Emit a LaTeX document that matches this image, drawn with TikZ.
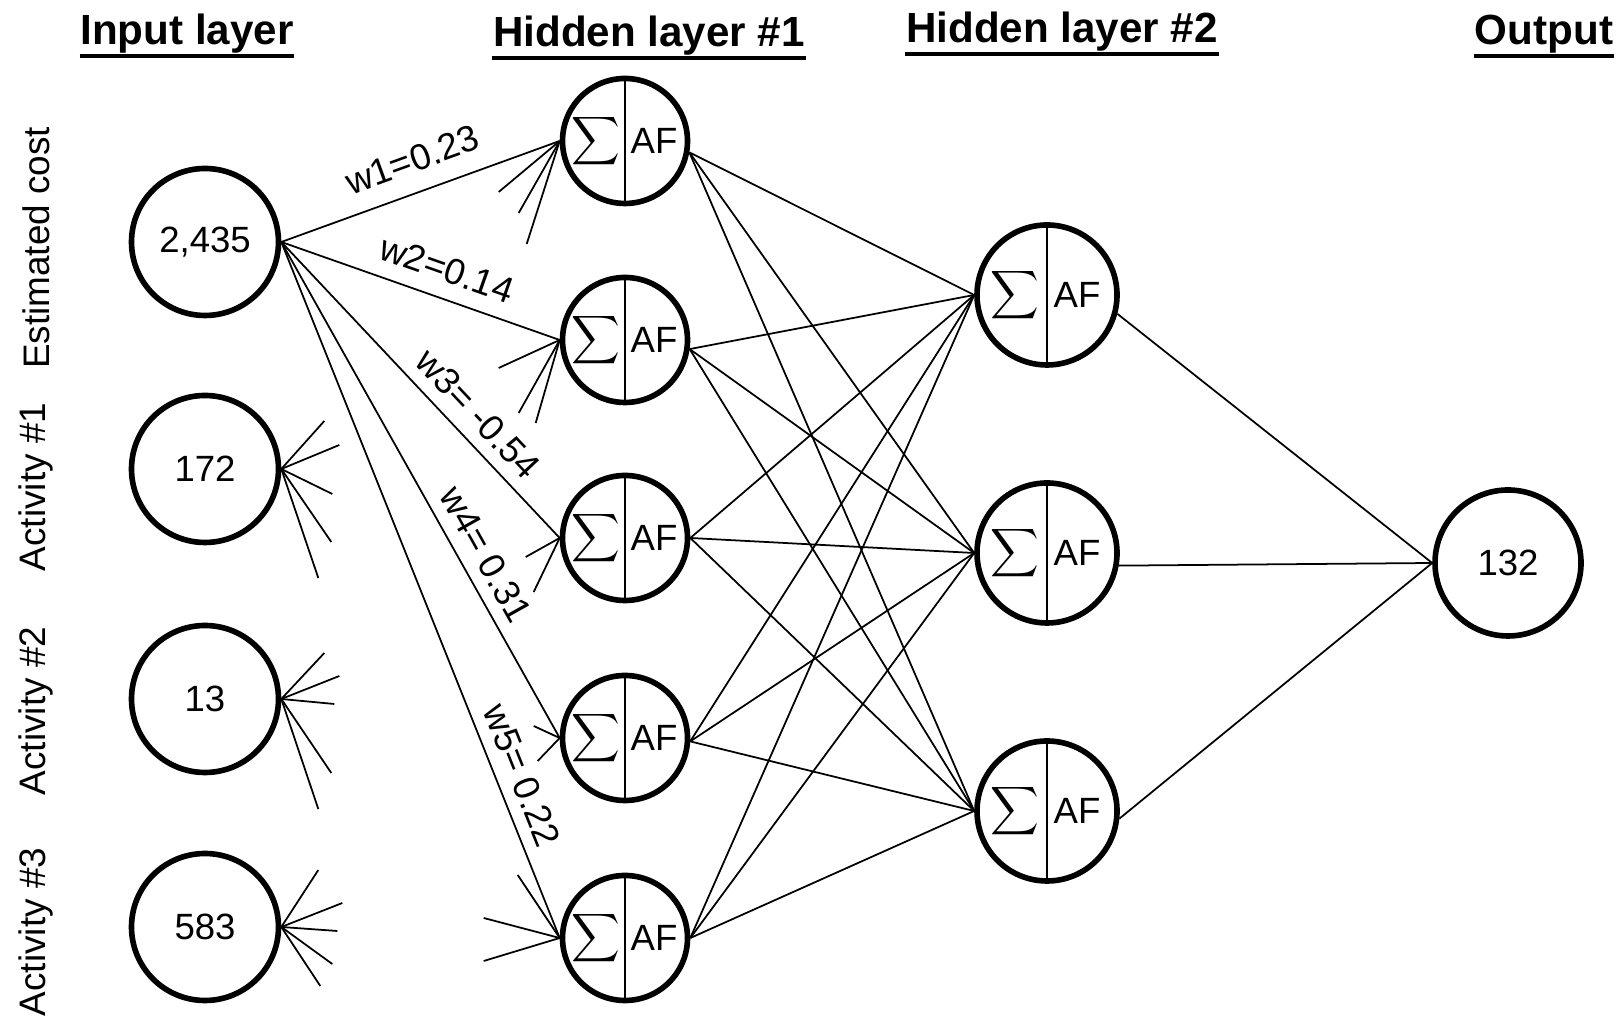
\documentclass[tikz,border=0pt]{standalone}
\usepackage{fontspec}
\setmainfont{Liberation Sans}
\usepackage{graphicx}
\usetikzlibrary{calc}
\newcommand{\sumsign}{\scalebox{0.96}{$\displaystyle\sum$}}

\begin{document}
\begin{tikzpicture}[
    every node/.style = {font=\fontsize{10.4}{12}\selectfont},
    neuron/.style = {circle, draw, line width=1.6pt, inner sep=0pt},
    conn/.style = {line width=0.5pt},
    wlabel/.style = {sloped, above},
    title/.style = {anchor=base, inner sep=0pt, font=\fontsize{12}{14}\selectfont\bfseries},
    side/.style = {rotate=90, font=\fontsize{10.5}{12}\selectfont}
]
    \useasboundingbox (0,0) rectangle (16.2,10.17);
    % Titoli
    \node[title] (tin) at (1.87,9.72) {Input layer};
    \node[title] (tha) at (6.49,9.70) {Hidden layer \#1};
    \node[title] (thb) at (10.62,9.74) {Hidden layer \#2};
    \node[title] (tout) at (15.44,9.72) {Output};
    \foreach \t in {tin,tha,thb,tout}
        \draw[line width=0.9pt] ([yshift=-0.11cm]\t.base west) -- ([yshift=-0.11cm]\t.base east);
    % Etichette laterali
    \node[side] (lcost) at (0.36,7.69) {Estimated cost};
    \node[side] (lact1) at (0.36,5.30) {Activity \#1};
    \node[side] (lact2) at (0.36,3.06) {Activity \#2};
    \node[side] (lact3) at (0.36,0.85) {Activity \#3};
    % Input layer
    \node[neuron, minimum size=1.47cm] (x1) at (2.05,7.75) {2,435};
    \node[neuron, minimum size=1.47cm] (x2) at (2.05,5.48) {172};
    \node[neuron, minimum size=1.47cm] (x3) at (2.05,3.18) {13};
    \node[neuron, minimum size=1.47cm] (x4) at (2.05,0.90) {583};
    % Hidden layer #1
    \foreach \i/\y in {1/8.76, 2/6.77, 3/4.79, 4/2.79, 5/0.79} {
        \node[neuron, minimum size=1.25cm] (ha\i) at (6.25,\y) {};
        \draw[conn] (ha\i.north) -- (ha\i.south);
        \node[font=\normalsize] at ([xshift=-0.29cm]ha\i.center) {\sumsign};
        \node at ([xshift=0.29cm]ha\i.center) {AF};
    }
    % Hidden layer #2
    \foreach \j/\y in {1/7.22, 2/4.64, 3/2.06} {
        \node[neuron, minimum size=1.40cm] (hb\j) at (10.47,\y) {};
        \draw[conn] (hb\j.north) -- (hb\j.south);
        \node[font=\normalsize] at ([xshift=-0.32cm]hb\j.center) {\sumsign};
        \node at ([xshift=0.30cm]hb\j.center) {AF};
    }
    % Output
    \node[neuron, minimum size=1.46cm] (out) at (15.08,4.54) {132};
    % pesi dal primo input
    \draw[conn] (x1.east) -- (ha1.west) node[wlabel, above=2pt, pos=0.51] {w1=0.23};
    \draw[conn] (x1.east) -- (ha2.west) node[wlabel, above=1pt, pos=0.56] {w2=0.14};
    \draw[conn] (x1.east) -- (ha3.west) node[wlabel, pos=0.64] {w3= -0.54};
    \draw[conn] (x1.east) -- (ha4.west) node[wlabel, pos=0.655] {w4= 0.31};
    \draw[conn] (x1.east) -- (ha5.west) node[wlabel, pos=0.78] {w5= 0.22};
    % connessioni parziali degli altri input
    \foreach \dx/\dy in {0.43/0.48, 0.58/0.24, 0.51/-0.25, 0.50/-0.73, 0.37/-1.09}
        \draw[conn] (x2.east) -- ++(\dx,\dy);
    \foreach \dx/\dy in {0.43/0.46, 0.58/0.23, 0.53/-0.05, 0.50/-0.74, 0.37/-1.10}
        \draw[conn] (x3.east) -- ++(\dx,\dy);
    \foreach \dx/\dy in {0.37/0.57, 0.61/0.24, 0.56/-0.04, 0.51/-0.37, 0.39/-0.59}
        \draw[conn] (x4.east) -- ++(\dx,\dy);
    % ingressi parziali del primo strato nascosto
    \foreach \dx/\dy in {-0.61/-0.51, -0.41/-0.72, -0.33/-1.03}
        \draw[conn] (ha1.west) -- ++(\dx,\dy);
    \foreach \dx/\dy in {-0.61/-0.28, -0.41/-0.73, -0.24/-0.83}
        \draw[conn] (ha2.west) -- ++(\dx,\dy);
    \foreach \dx/\dy in {-0.34/-0.19, -0.26/-0.54}
        \draw[conn] (ha3.west) -- ++(\dx,\dy);
    \foreach \dx/\dy in {-0.26/0.12, -0.22/-0.23}
        \draw[conn] (ha4.west) -- ++(\dx,\dy);
    \foreach \dx/\dy in {-0.42/0.63, -0.76/0.20, -0.76/-0.23}
        \draw[conn] (ha5.west) -- ++(\dx,\dy);
    % hidden #1 -> hidden #2
    \foreach \i/\a in {1/-10, 2/-8, 3/0, 4/-3, 5/0}
        \foreach \j in {1,2,3}
            \draw[conn] (ha\i.\a) -- (hb\j.west);
    % hidden #2 -> output
    \foreach \j/\a in {1/-15, 2/-10, 3/-6}
        \draw[conn] (hb\j.\a) -- (out.west);
\end{tikzpicture}
\end{document}
